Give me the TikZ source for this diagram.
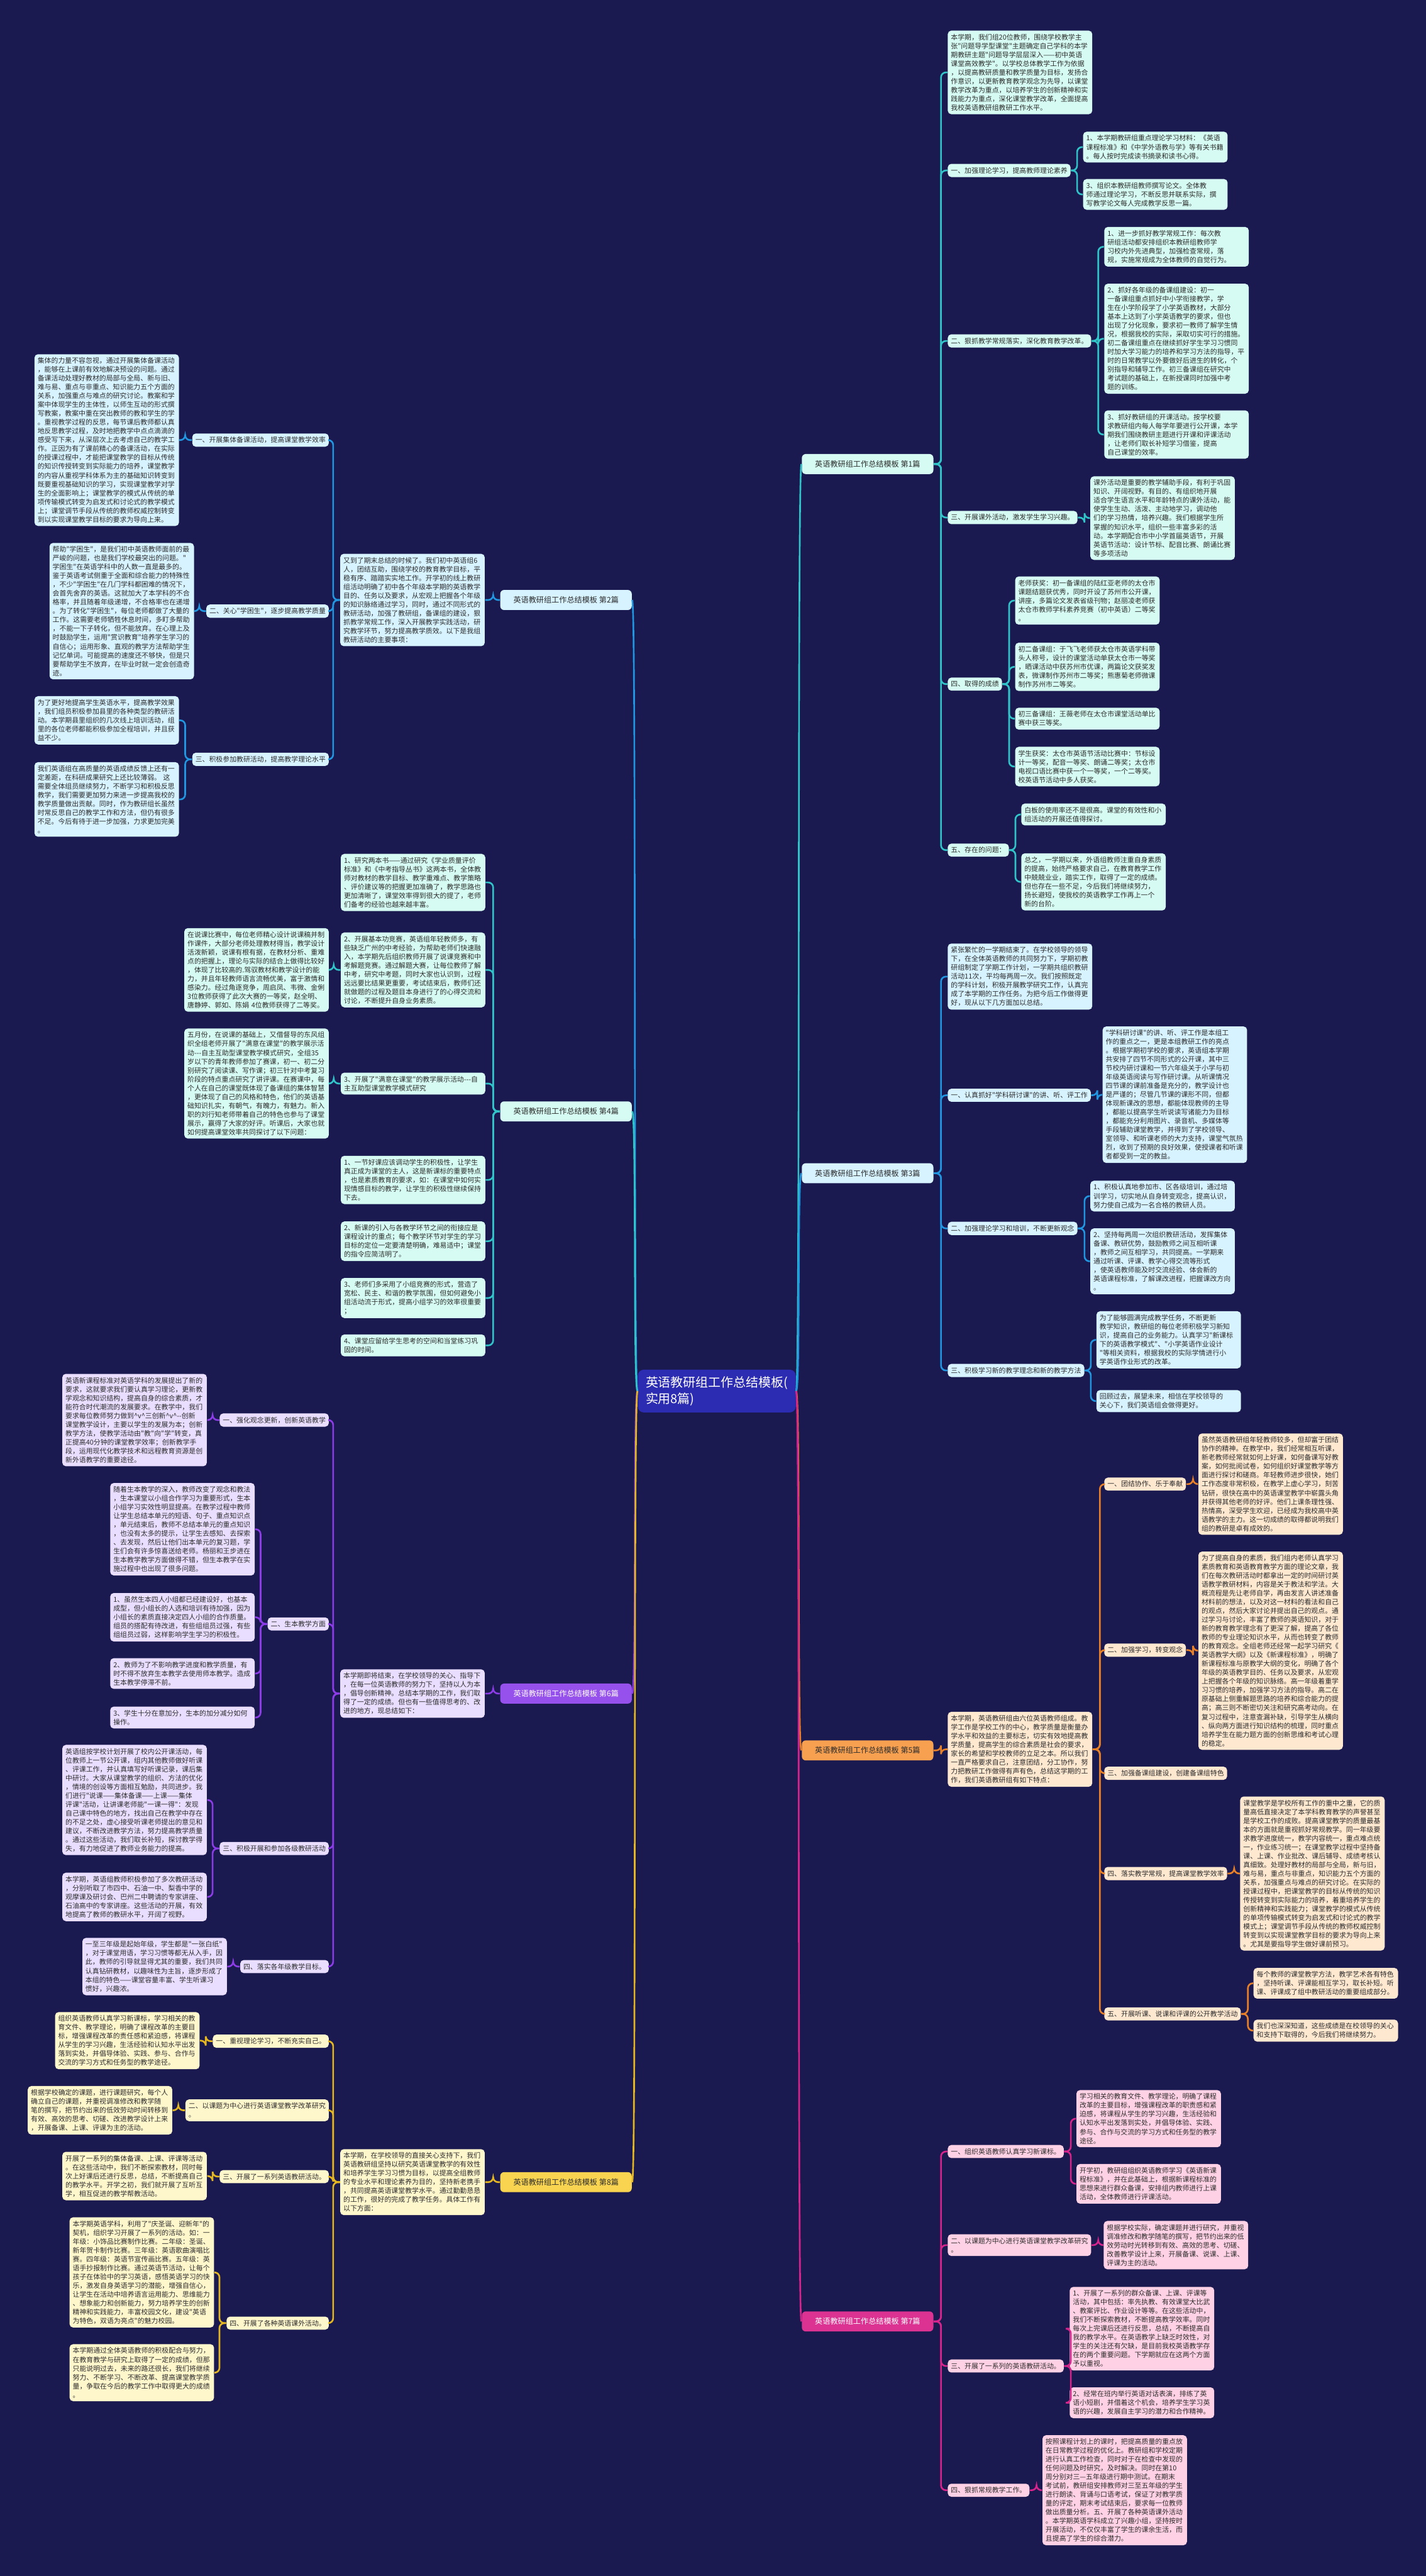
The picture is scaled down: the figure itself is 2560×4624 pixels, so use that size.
\documentclass[tikz,border=0pt]{standalone}
\usepackage{fontspec}
\newfontfamily\cjk[Ligatures=TeXOff]{Noto Sans CJK SC}
\definecolor{bgc}{RGB}{27,26,80}
\definecolor{txtc}{RGB}{45,45,45}
\definecolor{cen}{RGB}{44,44,178}
\definecolor{tl}{RGB}{48,196,200}
\definecolor{tf}{RGB}{213,251,242}
\definecolor{bl}{RGB}{32,150,225}
\definecolor{bf}{RGB}{214,243,255}
\definecolor{ol}{RGB}{232,128,40}
\definecolor{of}{RGB}{254,232,208}
\definecolor{olab}{RGB}{246,160,80}
\definecolor{pl}{RGB}{140,60,230}
\definecolor{pf}{RGB}{233,222,255}
\definecolor{plab}{RGB}{150,80,235}
\definecolor{ml}{RGB}{215,35,140}
\definecolor{mf}{RGB}{255,209,228}
\definecolor{mlab}{RGB}{220,50,145}
\definecolor{yl}{RGB}{228,182,32}
\definecolor{yf}{RGB}{255,247,204}
\definecolor{ylab}{RGB}{248,212,80}
\tikzset{
  txtbox/.style={font=\cjk\fontsize{3.5}{4.5}\selectfont, text=txtc, align=left,
    rounded corners=1.8pt, inner xsep=1.6pt, inner ysep=1.7pt},
  leaf/.style={txtbox, text width=2.48cm},
  topic/.style={font=\cjk\fontsize{3.9}{4.8}\selectfont, text=txtc, align=center,
    rounded corners=2pt, minimum width=2.36cm, minimum height=0.36cm, inner sep=2pt},
  hub/.style={font=\cjk\fontsize{6.4}{8.2}\selectfont, text=white, fill=cen, align=left,
    rounded corners=3pt, inner xsep=4pt, inner ysep=3.5pt},
  wire/.style={line width=0.85pt, rounded corners=2.5pt},
  tw/.style={wire, draw=tl}, bw/.style={wire, draw=bl}, ow/.style={wire, draw=ol},
  pw/.style={wire, draw=pl}, mw/.style={wire, draw=ml}, yw/.style={wire, draw=yl},
  mint/.style={fill=tf}, sky/.style={fill=bf}, peach/.style={fill=of},
  lilac/.style={fill=pf}, rosy/.style={fill=mf}, cream/.style={fill=yf}
}
\begin{document}
\begin{tikzpicture}[x=0.01cm,y=-0.01cm]
\fill[bgc] (0,0) rectangle (2560,4624);
\useasboundingbox (0,0) rectangle (2560,4624);

% centre
\node[hub] (C) at (1287,2497) {英语教研组工作总结模板(\\实用8篇)};

% ---- 第1篇
\node[topic, fill=tf, anchor=west] (L1) at (1439,833) {英语教研组工作总结模板 第1篇};
\node[leaf, mint, anchor=west] (a1) at (1701,130) {本学期，我们组20位教师，围绕学校教学主\\张"问题导学型课堂"主题确定自己学科的本学\\期教研主题"问题导学层层深入——初中英语\\课堂高效教学"。以学校总体教学工作为依据\\，以提高教研质量和教学质量为目标，发扬合\\作意识，以更新教育教学观念为先导，以课堂\\教学改革为重点，以培养学生的创新精神和实\\践能力为重点，深化课堂教学改革，全面提高\\我校英语教研组教研工作水平。};
\node[txtbox, mint, anchor=west] (a2) at (1701,306) {一、加强理论学习，提高教师理论素养};
\node[leaf, mint, anchor=west] (a2a) at (1944,264) {1、本学期教研组重点理论学习材料：《英语\\课程标准》和《中学外语教与学》等有关书籍\\。每人按时完成读书摘录和读书心得。};
\node[leaf, mint, anchor=west] (a2b) at (1944,349) {3、组织本教研组教师撰写论文。全体教\\师通过理论学习，不断反思并联系实际，撰\\写教学论文每人完成教学反思一篇。};
\node[txtbox, mint, anchor=west] (a3) at (1701,612) {二、狠抓教学常规落实，深化教育教学改革。};
\node[leaf, mint, anchor=west] (a3a) at (1982,443) {1、进一步抓好教学常规工作：每次教\\研组活动都安排组织本教研组教师学\\习校内外先进典型，加强检查常规，落\\规，实施常规成为全体教师的自觉行为。};
\node[leaf, mint, anchor=west] (a3b) at (1982,608) {2、抓好各年级的备课组建设：初一\\一备课组重点抓好中小学衔接教学，学\\生在小学阶段学了小学英语教材，大部分\\基本上达到了小学英语教学的要求，但也\\出现了分化现象，要求初一教师了解学生情\\况，根据我校的实际，采取切实可行的措施。\\初二备课组重点在继续抓好学生学习习惯同\\时加大学习能力的培养和学习方法的指导，平\\时的日常教学以外要做好后进生的转化，个\\别指导和辅导工作。初三备课组在研究中\\考试题的基础上，在新授课同时加强中考\\题的训练。};
\node[leaf, mint, anchor=west] (a3c) at (1982,780) {3、抓好教研组的开课活动。按学校要\\求教研组内每人每学年要进行公开课，本学\\期我们围绕教研主题进行开课和评课活动\\，让老师们取长补短学习借鉴，提高\\自己课堂的效率。};
\node[txtbox, mint, anchor=west] (a4) at (1701,929) {三、开展课外活动，激发学生学习兴趣。};
\node[leaf, mint, anchor=west] (a4a) at (1957,930) {课外活动是重要的教学辅助手段，有利于巩固\\知识、开阔视野。有目的、有组织地开展\\适合学生语言水平和年龄特点的课外活动，能\\使学生生动、活泼、主动地学习，调动他\\们的学习热情，培养兴趣。我们根据学生所\\掌握的知识水平，组织一些丰富多彩的活\\动。本学期配合市中小学首届英语节，开展\\英语节活动：设计节标、配音比赛、朗诵比赛\\等多项活动};
\node[txtbox, mint, anchor=west] (a5) at (1701,1228) {四、取得的成绩};
\node[leaf, mint, anchor=west] (a5a) at (1822,1078) {老师获奖：初一备课组的陆红亚老师的太仓市\\课题结题获优秀，同时开设了苏州市公开课，\\讲座，多篇论文发表省级刊物；赵丽凌老师获\\太仓市教师学科素养竞赛（初中英语）二等奖\\。};
\node[leaf, mint, anchor=west] (a5b) at (1822,1197) {初二备课组：于飞飞老师获太仓市英语学科带\\头人称号，设计的课堂活动单获太仓市一等奖\\，晒课活动中获苏州市优课，两篇论文获奖发\\表，微课制作苏州市二等奖；熊惠菊老师微课\\制作苏州市二等奖。};
\node[leaf, mint, anchor=west] (a5c) at (1822,1290) {初三备课组：王薇老师在太仓市课堂活动单比\\赛中获三等奖。};
\node[leaf, mint, anchor=west] (a5d) at (1822,1376) {学生获奖：太仓市英语节活动比赛中：节标设\\计一等奖，配音一等奖、朗诵二等奖；太仓市\\电视口语比赛中获一个一等奖，一个二等奖。\\校英语节活动中多人获奖。};
\node[txtbox, mint, anchor=west] (a6) at (1701,1526) {五、存在的问题：};
\node[leaf, mint, anchor=west] (a6a) at (1833,1462) {白板的使用率还不是很高。课堂的有效性和小\\组活动的开展还值得探讨。};
\node[leaf, mint, anchor=west] (a6b) at (1833,1583) {总之，一学期以来，外语组教师注重自身素质\\的提高，始终严格要求自己，在教育教学工作\\中兢兢业业，踏实工作，取得了一定的成绩。\\但也存在一些不足，今后我们将继续努力，\\扬长避短，使我校的英语教学工作再上一个\\新的台阶。};
\foreach \k in {a1,a2,a3,a4,a5,a6} \draw[tw] (L1.east) -- ++(13,0) |- (\k.west);
\foreach \k in {a2a,a2b} \draw[tw] (a2.east) -- ++(11,0) |- (\k.west);
\foreach \k in {a3a,a3b,a3c} \draw[tw] (a3.east) -- ++(12,0) |- (\k.west);
\draw[tw] (a4.east) -- ++(12,0) |- (a4a.west);
\foreach \k in {a5a,a5b,a5c,a5d} \draw[tw] (a5.east) -- ++(12,0) |- (\k.west);
\foreach \k in {a6a,a6b} \draw[tw] (a6.east) -- ++(11,0) |- (\k.west);

% ---- 第3篇
\node[topic, fill=bf, anchor=west] (L3) at (1439,2106) {英语教研组工作总结模板 第3篇};
\node[leaf, sky, anchor=west] (c1) at (1701,1753) {紧张繁忙的一学期结束了。在学校领导的领导\\下，在全体英语教师的共同努力下，学期初教\\研组制定了学期工作计划，一学期共组织教研\\活动11次，平均每两周一次。我们按照既定\\的学科计划，积极开展教学研究工作，认真完\\成了本学期的工作任务。为把今后工作做得更\\好，现从以下几方面加以总结。};
\node[txtbox, sky, anchor=west] (c2) at (1701,1966) {一、认真抓好"学科研讨课"的讲、听、评工作};
\node[leaf, sky, anchor=west] (c2a) at (1979,1965) {"学科研讨课"的讲、听、评工作是本组工\\作的重点之一，更是本组教研工作的亮点\\。根据学期初学校的要求，英语组本学期\\共安排了四节不同形式的公开课，其中三\\节校内研讨课和一节六年级关于小学与初\\年级英语阅读与写作研讨课。从听课情况\\四节课的课前准备是充分的，教学设计也\\是严谨的；尽管几节课的课形不同，但都\\体现新课改的思想，都能体现教师的主导\\，都能以提高学生听说读写诸能力为目标\\，都能充分利用图片、录音机、多媒体等\\手段辅助课堂教学，并得到了学校领导、\\室领导、和听课老师的大力支持，课堂气氛热\\烈，收到了预期的良好效果，使授课者和听课\\者都受到一定的教益。};
\node[txtbox, sky, anchor=west] (c3) at (1701,2205) {二、加强理论学习和培训，不断更新观念};
\node[leaf, sky, anchor=west] (c3a) at (1957,2147) {1、积极认真地参加市、区各级培训，通过培\\训学习，切实地从自身转变观念，提高认识，\\努力使自己成为一名合格的教研人员。};
\node[leaf, sky, anchor=west] (c3b) at (1957,2264) {2、坚持每两周一次组织教研活动，发挥集体\\备课、教研优势，鼓励教师之间互相听课\\，教师之间互相学习，共同提高。一学期来\\通过听课、评课、教学心得交流等形式\\，使英语教师能及时交流经验、体会新的\\英语课程标准，了解课改进程，把握课改方向\\。};
\node[txtbox, sky, anchor=west] (c4) at (1701,2460) {三、积极学习新的教学理念和新的教学方法};
\node[leaf, sky, anchor=west] (c4a) at (1968,2405) {为了能够圆满完成教学任务，不断更新\\教学知识，教研组的每位老师积极学习新知\\识，提高自己的业务能力。认真学习"新课标\\下的英语教学模式"、"小学英语作业设计\\"等相关资料，根据我校的实际学情进行小\\学英语作业形式的改革。};
\node[leaf, sky, anchor=west] (c4b) at (1968,2515) {回顾过去，展望未来，相信在学校领导的\\关心下，我们英语组会做得更好。};
\foreach \k in {c1,c2,c3,c4} \draw[bw] (L3.east) -- ++(13,0) |- (\k.west);
\draw[bw] (c2.east) -- ++(11,0) |- (c2a.west);
\foreach \k in {c3a,c3b} \draw[bw] (c3.east) -- ++(12,0) |- (\k.west);
\foreach \k in {c4a,c4b} \draw[bw] (c4.east) -- ++(11,0) |- (\k.west);

% ---- 第5篇
\node[topic, fill=olab, anchor=west] (L5) at (1439,3142) {英语教研组工作总结模板 第5篇};
\node[leaf, peach, anchor=west] (e0) at (1701,3140) {本学期，英语教研组由六位英语教师组成。教\\学工作是学校工作的中心，教学质量是衡量办\\学水平和效益的主要标志，切实有效地提高教\\学质量，提高学生的综合素质是社会的要求，\\家长的希望和学校教师的立足之本。所以我们\\一直严格要求自己，注意团结，分工协作，努\\力把教研工作做得有声有色，总结这学期的工\\作，我们英语教研组有如下特点：};
\node[txtbox, peach, anchor=west] (e1) at (1982,2664) {一、团结协作、乐于奉献};
\node[leaf, peach, anchor=west] (e1a) at (2151,2664) {虽然英语教研组年轻教师较多，但却富于团结\\协作的精神。在教学中，我们经常相互听课，\\新老教师经常就如何上好课，如何备课写好教\\案，如何批阅试卷，如何组织好课堂教学等方\\面进行探讨和磋商。年轻教师进步很快，她们\\工作态度非常积极，在教学上虚心学习，刻苦\\钻研，很快在高中的英语课堂教学中崭露头角\\并获得其他老师的好评。他们上课条理性强、\\热情高，深受学生欢迎，已经成为我校高中英\\语教学的主力。这一切成绩的取得都说明我们\\组的教研是卓有成效的。};
\node[txtbox, peach, anchor=west] (e2) at (1982,2962) {二、加强学习，转变观念};
\node[leaf, peach, anchor=west] (e2a) at (2151,2963) {为了提高自身的素质，我们组内老师认真学习\\素质教育和英语教育教学方面的理论文章，我\\们在每次教研活动时都拿出一定的时间研讨英\\语教学教研材料，内容是关于教法和学法。大\\概流程是先让老师自学，再由发言人讲述准备\\材料前的想法，以及对这一材料的看法和自己\\的观点，然后大家讨论并提出自己的观点。通\\过学习与讨论，丰富了教师的英语知识，对于\\新的教育教学理念有了更深了解，提高了各位\\教师的专业理论知识水平，从而也转变了教师\\的教育观念。全组老师还经常一起学习研究《\\英语教学大纲》以及《新课程标准》，明确了\\新课程标准与原教学大纲的变化，明确了各个\\年级的英语教学目的、任务以及要求，从宏观\\上把握各个年级的知识脉络。高一年级着重学\\习习惯的培养，加强学习方法的指导。高二在\\原基础上侧重解题思路的培养和综合能力的提\\高；高三则不断密切关注和研究高考动向。在\\复习过程中，注意查漏补缺，引导学生从横向\\、纵向两方面进行知识结构的梳理，同时重点\\培养学生在能力题方面的创新思维和考试心理\\的稳定。};
\node[txtbox, peach, anchor=west] (e3) at (1982,3183) {三、加强备课组建设，创建备课组特色};
\node[txtbox, peach, anchor=west] (e4) at (1982,3363) {四、落实教学常规，提高课堂教学效率};
\node[leaf, peach, anchor=west] (e4a) at (2226,3363) {课堂教学是学校所有工作的重中之重，它的质\\量高低直接决定了本学科教育教学的声誉甚至\\是学校工作的成败。提高课堂教学的质量最基\\本的方面就是重视抓好常规教学。同一年级要\\求教学进度统一，教学内容统一，重点难点统\\一，作业练习统一；在课堂教学过程中坚持备\\课、上课、作业批改、课后辅导、成绩考核认\\真细致。处理好教材的局部与全局，新与旧，\\难与易，重点与非重点，知识能力五个方面的\\关系，加强重点与难点的研究讨论。在实际的\\授课过程中，把课堂教学的目标从传统的知识\\传授转变到实际能力的培养，着重培养学生的\\创新精神和实践能力；课堂教学的模式从传统\\的单项传输模式转变为启发式和讨论式的教学\\模式上；课堂调节手段从传统的教师权威控制\\转变到以实现课堂教学目标的要求为导向上来\\。尤其是要指导学生做好课前预习。};
\node[txtbox, peach, anchor=west] (e5) at (1982,3615) {五、开展听课、说课和评课的公开教学活动};
\node[leaf, peach, anchor=west] (e5a) at (2250,3560) {每个教师的课堂教学方法，教学艺术各有特色\\，坚持听课、评课能相互学习，取长补短。听\\课、评课成了组中教研活动的重要组成部分。};
\node[leaf, peach, anchor=west] (e5b) at (2250,3645) {我们也深深知道，这些成绩是在校领导的关心\\和支持下取得的，今后我们将继续努力。};
\draw[ow] (L5.east) -- ++(13,0) |- (e0.west);
\foreach \k in {e1,e2,e3,e4,e5} \draw[ow] (e0.east) -- ++(13,0) |- (\k.west);
\draw[ow] (e1.east) -- ++(12,0) |- (e1a.west);
\draw[ow] (e2.east) -- ++(12,0) |- (e2a.west);
\draw[ow] (e4.east) -- ++(12,0) |- (e4a.west);
\foreach \k in {e5a,e5b} \draw[ow] (e5.east) -- ++(12,0) |- (\k.west);

% ---- 第7篇
\node[topic, fill=mlab, text=white, anchor=west] (L7) at (1439,4167) {英语教研组工作总结模板 第7篇};
\node[txtbox, rosy, anchor=west] (g1) at (1701,3862) {一、组织英语教师认真学习新课标。};
\node[leaf, rosy, anchor=west] (g1a) at (1932,3803) {学习相关的教育文件、教学理论，明确了课程\\改革的主要目标，增强课程改革的职责感和紧\\迫感，将课程从学生的学习兴趣，生活经验和\\认知水平出发落到实处，并倡导体验、实践、\\参与、合作与交流的学习方式和任务型的教学\\途径。};
\node[leaf, rosy, anchor=west] (g1b) at (1932,3920) {开学初，教研组组织英语教师学习《英语新课\\程标准》，并在此基础上，根据新课程标准的\\思想来进行群众备课，安排组内教师进行上课\\活动，全体教师进行评课活动。};
\node[txtbox, rosy, anchor=west] (g2) at (1701,4030) {二、以课题为中心进行英语课堂教学改革研究\\。};
\node[leaf, rosy, anchor=west] (g2a) at (1981,4030) {根据学校实际，确定课题并进行研究，并重视\\调准修改和教学随笔的撰写，把节约出来的低\\效劳动时光转移到有效、高效的思考、切磋、\\改善教学设计上来，开展备课、说课、上课、\\评课为主的活动。};
\node[txtbox, rosy, anchor=west] (g3) at (1701,4247) {三、开展了一系列的英语教研活动。};
\node[leaf, rosy, anchor=west] (g3a) at (1920,4180) {1、开展了一系列的群众备课、上课、评课等\\活动，其中包括：率先执教、有效课堂大比武\\、教案评比、作业设计等等。在这些活动中，\\我们不断探索教材，不断提高教学效率。同时\\每次上完课后还进行反思，总结，不断提高自\\我的教学水平。在英语教学上缺乏时效性，对\\学生的关注还有欠缺，是目前我校英语教学存\\在的两个重要问题。下学期就应在这两个方面\\予以重视。};
\node[leaf, rosy, anchor=west] (g3b) at (1920,4313) {2、经常在班内举行英语对话表演，排练了英\\语小短剧，并借着这个机会，培养学生学习英\\语的兴趣，发展自主学习的潜力和合作精神。};
\node[txtbox, rosy, anchor=west] (g4) at (1701,4470) {四、狠抓常规教学工作。};
\node[leaf, rosy, anchor=west] (g4a) at (1871,4470) {按照课程计划上的课时，把提高质量的重点放\\在日常教学过程的优化上。教研组和学校定期\\进行认真工作检查，同时对于在检查中发现的\\任何问题及时研究，及时解决。同时在第10\\周分别对三—五年级进行期中测试。在期末\\考试前，教研组安排教师对三至五年级的学生\\进行朗读、背诵与口语考试，保证了对教学质\\量的评定，期末考试结束后，要求每一位教师\\做出质量分析。五、开展了各种英语课外活动\\。本学期英语学科成立了兴趣小组，坚持按时\\开展活动，不仅仅丰富了学生的课余生活，而\\且提高了学生的综合潜力。};
\foreach \k in {g1,g2,g3,g4} \draw[mw] (L7.east) -- ++(13,0) |- (\k.west);
\foreach \k in {g1a,g1b} \draw[mw] (g1.east) -- ++(12,0) |- (\k.west);
\draw[mw] (g2.east) -- ++(12,0) |- (g2a.west);
\foreach \k in {g3a,g3b} \draw[mw] (g3.east) -- ++(12,0) |- (\k.west);
\draw[mw] (g4.east) -- ++(12,0) |- (g4a.west);

% ---- 第2篇
\node[topic, fill=bf, anchor=east] (L2) at (1135,1077) {英语教研组工作总结模板 第2篇};
\node[leaf, sky, anchor=east] (b0) at (871,1077) {又到了期末总结的时候了。我们初中英语组6\\人，团结互助，围绕学校的教育教学目标，平\\稳有序、踏踏实实地工作。开学初的线上教研\\组活动明确了初中各个年级本学期的英语教学\\目的、任务以及要求，从宏观上把握各个年级\\的知识脉络通过学习，同时，通过不同形式的\\教研活动，加强了教研组，备课组的建设，狠\\抓教学常规工作，深入开展教学实践活动，研\\究教学环节，努力提高教学质效。以下是我组\\教研活动的主要事项：};
\node[txtbox, sky, anchor=east] (b1) at (591,790) {一、开展集体备课活动，提高课堂教学效率};
\node[leaf, sky, anchor=east] (b1a) at (322,790) {集体的力量不容忽视，通过开展集体备课活动\\，能够在上课前有效地解决预设的问题。通过\\备课活动处理好教材的局部与全局、新与旧、\\难与易、重点与非重点、知识能力五个方面的\\关系，加强重点与难点的研究讨论。教案和学\\案中体现学生的主体性，以师生互动的形式撰\\写教案，教案中重在突出教师的教和学生的学\\。重视教学过程的反思，每节课后教师都认真\\地反思教学过程，及时地把教学中点点滴滴的\\感受写下来，从深层次上去考虑自己的教学工\\作。正因为有了课前精心的备课活动，在实际\\的授课过程中，才能把课堂教学的目标从传统\\的知识传授转变到实际能力的培养，课堂教学\\的内容从重视学科体系为主的基础知识转变到\\既要重视基础知识的学习，实现课堂教学对学\\生的全面影响上；课堂教学的模式从传统的单\\项传输模式转变为启发式和讨论式的教学模式\\上；课堂调节手段从传统的教师权威控制转变\\到以实现课堂教学目标的要求为导向上来。};
\node[txtbox, sky, anchor=east] (b2) at (591,1097) {二、关心"学困生"，逐步提高教学质量};
\node[leaf, sky, anchor=east] (b2a) at (349,1097) {帮助"学困生"，是我们初中英语教师面前的最\\严峻的问题，也是我们学校最突出的问题。"\\学困生"在英语学科中的人数一直是最多的。\\鉴于英语考试侧重于全面和综合能力的特殊性\\，不少"学困生"在几门学科都困难的情况下，\\会首先舍弃的英语。这就加大了本学科的不合\\格率，并且随着年级递增，不合格率也在递增\\。为了转化"学困生"，每位老师都做了大量的\\工作。这需要老师牺牲休息时间，多盯多帮助\\，不能一下子转化，但不能放弃。在心理上及\\时鼓励学生，运用"赏识教育"培养学生学习的\\自信心；运用形象、直观的教学方法帮助学生\\记忆单词。可能提高的速度还不够快，但是只\\要帮助学生不放弃，在毕业时就一定会创造奇\\迹。};
\node[txtbox, sky, anchor=east] (b3) at (591,1363) {三、积极参加教研活动，提高教学理论水平};
\node[leaf, sky, anchor=east] (b3a) at (322,1293) {为了更好地提高学生英语水平，提高教学效果\\，我们组员积极参加县里的各种类型的教研活\\动。本学期县里组织的几次线上培训活动，组\\里的各位老师都能积极参加全程培训，并且获\\益不少。};
\node[leaf, sky, anchor=east] (b3b) at (322,1435) {我们英语组在高质量的英语成绩反馈上还有一\\定差距，在科研成果研究上还比较薄弱。~这\\需要全体组员继续努力，不断学习和积极反思\\教学，我们需要更加努力来进一步提高我校的\\教学质量做出贡献。同时，作为教研组长虽然\\时常反思自己的教学工作和方法，但仍有很多\\不足。今后有待于进一步加强，力求更加完美\\。};
\draw[bw] (L2.west) -- ++(-12,0) |- (b0.east);
\foreach \k in {b1,b2,b3} \draw[bw] (b0.west) -- ++(-12,0) |- (\k.east);
\draw[bw] (b1.west) -- ++(-12,0) |- (b1a.east);
\draw[bw] (b2.west) -- ++(-12,0) |- (b2a.east);
\foreach \k in {b3a,b3b} \draw[bw] (b3.west) -- ++(-12,0) |- (\k.east);

% ---- 第4篇
\node[topic, fill=tf, anchor=east] (L4) at (1135,1995) {英语教研组工作总结模板 第4篇};
\node[leaf, mint, anchor=east] (d1) at (872,1584) {1、研究两本书——通过研究《学业质量评价\\标准》和《中考指导丛书》这两本书，全体教\\师对教材的教学目标、教学重难点、教学策略\\、评价建议等的把握更加准确了，教学思路也\\更加清晰了，课堂效率得到很大的提了，老师\\们备考的经验也越来越丰富。};
\node[leaf, mint, anchor=east] (d2) at (872,1741) {2、开展基本功竞赛，英语组年轻教师多，有\\些缺乏广州的中考经验，为帮助老师们快速融\\入，本学期先后组织教师开展了说课竞赛和中\\考解题竞赛。通过解题大赛，让每位教师了解\\中考，研究中考题，同时大家也认识到，过程\\远远要比结果更重要，考试结束后，教师们还\\就做题的过程及题目本身进行了的心得交流和\\讨论，不断提升自身业务素质。};
\node[leaf, mint, anchor=east] (d2a) at (591,1741) {在说课比赛中，每位老师精心设计说课稿并制\\作课件，大部分老师处理教材得当，教学设计\\活泼新颖，说课有根有据，在教材分析、重难\\点的把握上，理论与实际的结合上做得比较好\\，体现了比较高的.驾驭教材和教学设计的能\\力，并且年轻教师语言流畅优美，富于激情和\\感染力。经过角逐竞争，周启凤、韦微、金俐\\3位教师获得了此次大赛的一等奖，赵全明、\\唐静婷、郭如、陈娟~4位教师获得了二等奖。};
\node[leaf, mint, anchor=east] (d3) at (872,1945) {3、开展了"满意在课堂"的教学展示活动-{}-{}-自\\主互助型课堂教学模式研究};
\node[leaf, mint, anchor=east] (d3a) at (591,1945) {五月份，在说课的基础上，又借督导的东风组\\织全组老师开展了"满意在课堂"的教学展示活\\动-{}-{}-自主互助型课堂教学模式研究，全组35\\岁以下的青年教师参加了赛课，初一、初二分\\别研究了阅读课、写作课；初三针对中考复习\\阶段的特点重点研究了讲评课。在赛课中，每\\个人在自己的课堂既体现了备课组的集体智慧\\，更体现了自己的风格和特色，他们的英语基\\础知识扎实，有朝气，有魄力，有魅力。新入\\职的刘行知老师带着自己的特色也参与了课堂\\展示，赢得了大家的好评。听课后，大家也就\\如何提高课堂效率共同探讨了以下问题：};
\node[leaf, mint, anchor=east] (d4) at (872,2118) {1、一节好课应该调动学生的积极性，让学生\\真正成为课堂的主人，这是新课标的重要特点\\，也是素质教育的要求，如：在课堂中如何实\\现情感目标的教学，让学生的积极性继续保持\\下去。};
\node[leaf, mint, anchor=east] (d5) at (872,2228) {2、新课的引入与各教学环节之间的衔接应是\\课程设计的重点；每个教学环节对学生的学习\\目标的定位一定要清楚明确，难易适中；课堂\\的指令应简洁明了。};
\node[leaf, mint, anchor=east] (d6) at (872,2330) {3、老师们多采用了小组竞赛的形式，营造了\\宽松、民主、和谐的教学氛围，但如何避免小\\组活动流于形式，提高小组学习的效率很重要\\；};
\node[leaf, mint, anchor=east] (d7) at (872,2415) {4、课堂应留给学生思考的空间和当堂练习巩\\固的时间。};
\foreach \k in {d1,d2,d3,d4,d5,d6,d7} \draw[tw] (L4.west) -- ++(-12,0) |- (\k.east);
\draw[tw] (d2.west) -- ++(-12,0) |- (d2a.east);
\draw[tw] (d3.west) -- ++(-12,0) |- (d3a.east);

% ---- 第6篇
\node[topic, fill=plab, text=white, anchor=east] (L6) at (1135,3040) {英语教研组工作总结模板 第6篇};
\node[leaf, lilac, anchor=east] (f0) at (871,3040) {本学期即将结束，在学校领导的关心、指导下\\，在每一位英语教师的努力下，坚持以人为本\\，倡导创新精神。总结本学期的工作，我们取\\得了一定的成绩。但也有一些值得思考的、改\\进的地方，现总结如下：};
\node[txtbox, lilac, anchor=east] (f1) at (591,2549) {一、强化观念更新，创新英语教学};
\node[leaf, lilac, anchor=east] (f1a) at (372,2549) {英语新课程标准对英语学科的发展提出了新的\\要求，这就要求我们要认真学习理论，更新教\\学观念和知识结构，提高自身的综合素质，才\\能符合时代潮流的发展要求。在教学中，我们\\要求每位教师努力做到\textasciicircum v\textasciicircum 三创新\textasciicircum v\textasciicircum -{}-创新\\课堂教学设计，主要以学生的发展为本；创新\\教学方法，使教学活动由"教"向"学"转变，真\\正提高40分钟的课堂教学效率；创新教学手\\段，运用现代化教学技术和远程教育资源是创\\新外语教学的重要途径。};
\node[txtbox, lilac, anchor=east] (f2) at (591,2915) {二、生本教学方面};
\node[leaf, lilac, anchor=east] (f2a) at (458,2745) {随着生本教学的深入，教师改变了观念和教法\\，生本课堂以小组合作学习为重要形式，生本\\小组学习实效性明显提高。在教学过程中教师\\让学生总结本单元的短语、句子、重点知识点\\，单元结束后，教师不总结本单元的重点知识\\，也没有太多的提示，让学生去感知、去探索\\、去发现，然后让他们出本单元的复习题，学\\生们会有许多惊喜送给老师。杨丽和王步进在\\生本教学教学方面做得不错，但生本教学在实\\施过程中也出现了很多问题。};
\node[leaf, lilac, anchor=east] (f2b) at (458,2903) {1、虽然生本四人小组都已经建设好，也基本\\成型，但小组长的人选和培训有待加强，因为\\小组长的素质直接决定四人小组的合作质量。\\组员的搭配有待改进，有些组组员过强，有些\\组组员过弱，这样影响学生学习的积极性。};
\node[leaf, lilac, anchor=east] (f2c) at (458,3004) {2、教师为了不影响教学进度和教学质量，有\\时不得不放弃生本教学去使用师本教学。造成\\生本教学停滞不前。};
\node[leaf, lilac, anchor=east] (f2d) at (458,3083) {3、学生十分在意加分，生本的加分减分如何\\操作。};
\node[txtbox, lilac, anchor=east] (f3) at (591,3318) {三、积极开展和参加各级教研活动};
\node[leaf, lilac, anchor=east] (f3a) at (372,3231) {英语组按学校计划开展了校内公开课活动，每\\位教师上一节公开课，组内其他教师做好听课\\、评课工作，并认真填写好听课记录，课后集\\中研讨。大家从课堂教学的组织、方法的优化\\，情境的创设等方面相互勉励，共同进步。我\\们进行"说课——集体备课——上课——集体\\评课"活动，让讲课老师能"一课一得"：发现\\自己课中特色的地方，找出自己在教学中存在\\的不足之处，虚心接受听课老师提出的意见和\\建议，不断改进教学方法，努力提高教学质量\\。通过这些活动，我们取长补短，探讨教学得\\失，有力地促进了教师业务能力的提高。};
\node[leaf, lilac, anchor=east] (f3b) at (372,3405) {本学期，英语组教师积极参加了多次教研活动\\，分别听取了市四中、石油一中、梨香中学的\\观摩课及研讨会、巴州二中聘请的专家讲座、\\石油高中的专家讲座。这些活动的开展，有效\\地提高了教师的教研水平，开阔了视野。};
\node[txtbox, lilac, anchor=east] (f4) at (591,3530) {四、落实各年级教学目标。};
\node[leaf, lilac, anchor=east] (f4a) at (408,3530) {一至三年级是起始年级，学生都是"一张白纸"\\，对于课堂用语，学习习惯等都无从入手，因\\此，教师的引导就显得尤其的重要，我们共同\\认真钻研教材，以趣味性为主旨，逐步形成了\\本组的特色——课堂容量丰富、学生听课习\\惯好，兴趣浓。};
\draw[pw] (L6.west) -- ++(-12,0) |- (f0.east);
\foreach \k in {f1,f2,f3,f4} \draw[pw] (f0.west) -- ++(-12,0) |- (\k.east);
\draw[pw] (f1.west) -- ++(-12,0) |- (f1a.east);
\foreach \k in {f2a,f2b,f2c,f2d} \draw[pw] (f2.west) -- ++(-12,0) |- (\k.east);
\foreach \k in {f3a,f3b} \draw[pw] (f3.west) -- ++(-12,0) |- (\k.east);
\draw[pw] (f4.west) -- ++(-12,0) |- (f4a.east);

% ---- 第8篇
\node[topic, fill=ylab, anchor=east] (L8) at (1135,3917) {英语教研组工作总结模板 第8篇};
\node[leaf, cream, anchor=east] (h0) at (871,3917) {本学期，在学校领导的直接关心支持下，我们\\英语教研组坚持以研究英语课堂教学的有效性\\和培养学生学习习惯为目标，以提高全组教师\\的专业水平和理论素养为目的，坚持新老携手\\，共同提高英语课堂教学水平。通过勤勤恳恳\\的工作，很好的完成了教学任务。具体工作有\\以下方面：};
\node[txtbox, cream, anchor=east] (h1) at (591,3664) {一、重视理论学习，不断充实自己。};
\node[leaf, cream, anchor=east] (h1a) at (359,3663) {组织英语教师认真学习新课标，学习相关的教\\育文件、教学理论，明确了课程改革的主要目\\标，增强课程改革的责任感和紧迫感，将课程\\从学生的学习兴趣，生活经验和认知水平出发\\落到实处，并倡导体验、实践、参与、合作与\\交流的学习方式和任务型的教学途径。};
\node[txtbox, cream, anchor=east] (h2) at (591,3788) {二、以课题为中心进行英语课堂教学改革研究\\。};
\node[leaf, cream, anchor=east] (h2a) at (310,3788) {根据学校确定的课题，进行课题研究，每个人\\确立自己的课题，并重视调准修改和教学随\\笔的撰写，把节约出来的低效劳动时间转移到\\有效、高效的思考、切磋、改进教学设计上来\\，开展备课、上课、评课为主的活动。};
\node[txtbox, cream, anchor=east] (h3) at (591,3907) {三、开展了一系列英语教研活动。};
\node[leaf, cream, anchor=east] (h3a) at (372,3906) {开展了一系列的集体备课、上课、评课等活动\\。在这些活动中，我们不断探索教材，同时每\\次上好课后还进行反思，总结，不断提高自己\\的教学水平。开学之初，我们就开展了互听互\\学，相互促进的教学帮教活动。};
\node[txtbox, cream, anchor=east] (h4) at (591,4170) {四、开展了各种英语课外活动。};
\node[leaf, cream, anchor=east] (h4a) at (385,4079) {本学期英语学科，利用了"庆圣诞、迎新年"的\\契机，组织学习开展了一系列的活动。如：一\\年级：小饰品比赛制作比赛。二年级：圣诞、\\新年贺卡制作比赛。三年级：英语歌曲演唱比\\赛。四年级：英语节宣传画比赛。五年级：英\\语手抄报制作比赛。通过英语节活动，让每个\\孩子在体验中的学习英语，感悟英语学习的快\\乐，激发自身英语学习的潜能，增强自信心，\\让学生在活动中培养语言运用能力、思维能力\\、想象能力和创新能力，努力培养学生的创新\\精神和实践能力，丰富校园文化，建设"英语\\为特色，双语为亮点"的魅力校园。};
\node[leaf, cream, anchor=east] (h4b) at (385,4259) {本学期通过全体英语教师的积极配合与努力，\\在教育教学与研究上取得了一定的成绩，但那\\只能说明过去，未来的路还很长，我们将继续\\努力、不断学习、不断改革、提高课堂教学质\\量，争取在今后的教学工作中取得更大的成绩\\。};
\draw[yw] (L8.west) -- ++(-12,0) |- (h0.east);
\foreach \k in {h1,h2,h3,h4} \draw[yw] (h0.west) -- ++(-12,0) |- (\k.east);
\draw[yw] (h1.west) -- ++(-12,0) |- (h1a.east);
\draw[yw] (h2.west) -- ++(-12,0) |- (h2a.east);
\draw[yw] (h3.west) -- ++(-12,0) |- (h3a.east);
\foreach \k in {h4a,h4b} \draw[yw] (h4.west) -- ++(-12,0) |- (\k.east);

% centre to the eight parts
\foreach \k/\s in {L1/tw,L3/bw,L5/ow,L7/mw}
  \draw[\s] (C.east) .. controls +(8,0) and +(-8,0) .. (\k.west);
\foreach \k/\s in {L2/bw,L4/tw,L6/pw,L8/yw}
  \draw[\s] (C.west) .. controls +(-8,0) and +(8,0) .. (\k.east);
\end{tikzpicture}
\end{document}
